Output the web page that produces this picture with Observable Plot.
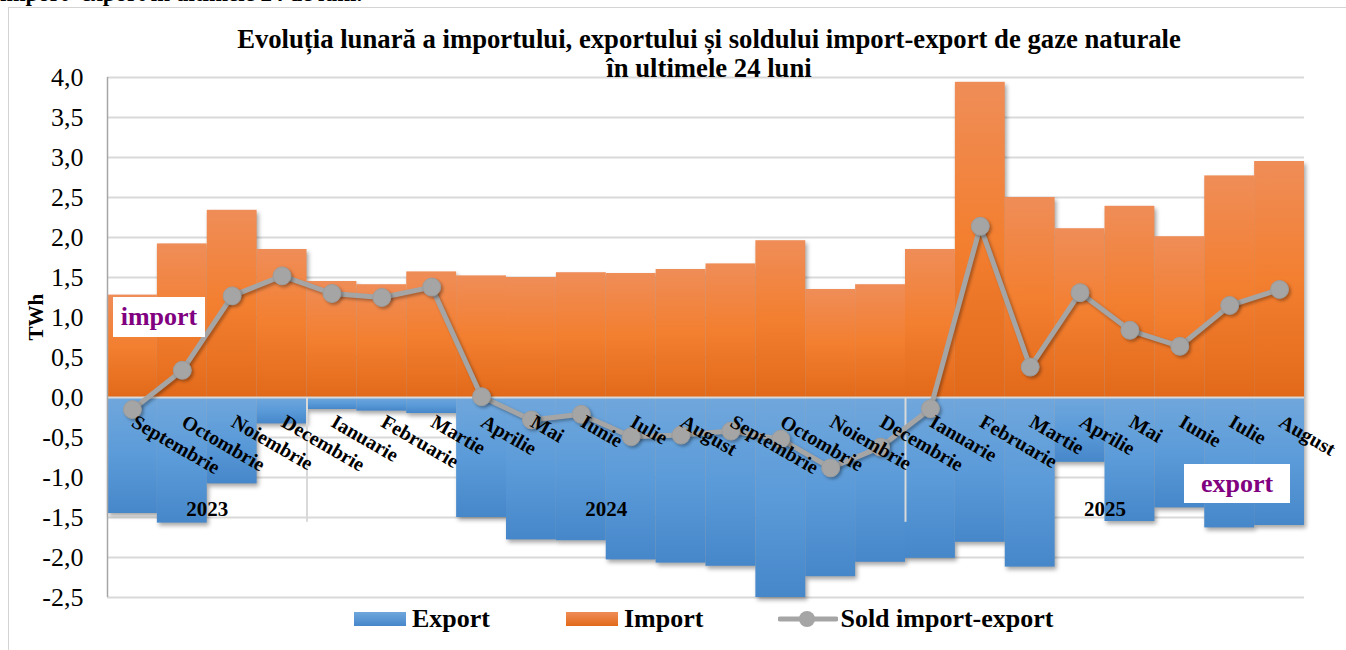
<!DOCTYPE html>
<html>
<head>
<meta charset="utf-8">
<script src="https://cdn.jsdelivr.net/npm/d3@7"></script>
<script src="https://cdn.jsdelivr.net/npm/@observablehq/plot@0.6"></script>
<style>
  html, body { margin: 0; padding: 0; background: #fff; overflow: hidden; }
  #wrap { position: relative; width: 1346px; height: 650px; font-family: "Liberation Serif", "Times New Roman", serif; }
  #frame { position: absolute; left: 8px; top: 7px; right: 0; bottom: -2px; border-top: 1.5px solid #D4D4D4; border-left: 1.5px solid #D4D4D4; }
  #doctext { position: absolute; left: 0; top: -17px; font-size: 23px; font-weight: bold; line-height: 22px; white-space: nowrap; color: #000; }
  #title { position: absolute; left: 209px; width: 1000px; top: 25px; text-align: center; font-size: 26.7px; font-weight: bold; line-height: 28.5px; color: #000; }
  #chart { position: absolute; left: 0; top: 0; }
  #chart svg { overflow: visible; }
  g[aria-label="rect"] { filter: drop-shadow(2px 3px 2px rgba(0,0,0,0.35)); }
  g[aria-label="line"], g[aria-label="dot"] { filter: drop-shadow(2px 2px 1.5px rgba(0,0,0,0.3)); }
  .anno { position: absolute; background: #fff; color: #800080; font-size: 26px; font-weight: bold; text-align: center; white-space: nowrap; }
  #legend { position: absolute; left: 354px; top: 606px; display: flex; align-items: center; font-size: 26px; font-weight: bold; line-height: 26px; color: #000; }
  .item { display: flex; align-items: center; }
  .sw { width: 52px; height: 14px; margin-right: 6px; }
</style>
</head>
<body>
<div id="wrap">
  <div id="frame"></div>
  <div id="doctext">import- export în ultimele 24 de luni.</div>
  <div id="chart"></div>
  <div id="title">Evoluția lunară a importului, exportului și soldului import-export de gaze naturale<br>în ultimele 24 luni</div>
  <div class="anno" style="left:113px; top:297px; width:92px; height:40px; line-height:40px;">import</div>
  <div class="anno" style="left:1184px; top:464px; width:106px; height:39px; line-height:39px;">export</div>
  <div id="legend">
    <div class="item" style="margin-right:76px;"><div class="sw" style="background:linear-gradient(#70A7DC,#4687CA);"></div>Export</div>
    <div class="item" style="margin-right:75px;"><div class="sw" style="background:linear-gradient(#EF8D58,#E2691A);"></div>Import</div>
    <div class="item">
      <svg width="60" height="20" style="margin-right:2px;"><line x1="2" y1="10" x2="58" y2="10" stroke="#A5A5A5" stroke-width="5" stroke-linecap="round"/><circle cx="29" cy="10" r="8" fill="#A5A5A5"/></svg>Sold import-export
    </div>
  </div>
</div>
<script>
// ---- Data ----
const months = ["Septembrie","Octombrie","Noiembrie","Decembrie","Ianuarie","Februarie","Martie","Aprilie","Mai","Iunie","Iulie","August",
                "Septembrie","Octombrie","Noiembrie","Decembrie","Ianuarie","Februarie","Martie","Aprilie","Mai","Iunie","Iulie","August"];
const importValues = [1.28,1.92,2.34,1.85,1.45,1.41,1.57,1.52,1.50,1.56,1.55,1.60,1.67,1.96,1.35,1.41,1.85,3.94,2.50,2.11,2.39,2.01,2.77,2.95];
const exportValues = [-1.45,-1.57,-1.08,-0.33,-0.15,-0.17,-0.20,-1.50,-1.78,-1.79,-2.03,-2.07,-2.11,-2.50,-2.24,-2.06,-2.01,-1.81,-2.12,-0.81,-1.55,-1.38,-1.63,-1.60];
const soldValues = [-0.15,0.34,1.27,1.52,1.30,1.25,1.38,0.01,-0.28,-0.21,-0.49,-0.47,-0.42,-0.52,-0.88,-0.62,-0.14,2.14,0.38,1.31,0.84,0.64,1.15,1.35];
const yearLabels = ["2023","2024","2025"];
const yearMonthCounts = [4,12,8];
const yTicks = [-2.5,-2.0,-1.5,-1.0,-0.5,0.0,0.5,1.0,1.5,2.0,2.5,3.0,3.5,4.0];

// ---- Derived tables ----
const data = months.map((m, i) => ({i, month: m, imp: importValues[i], exp: exportValues[i], sold: soldValues[i]}));
let start = 0;
const years = yearLabels.map((label, k) => {
  const s = start; start += yearMonthCounts[k];
  return {label, center: (s + start - 1) / 2, end: start - 0.5};
});
const dividers = years.slice(0, -1).map(d => d.end);
const fmt = v => d3.format(".1f")(v).replace(".", ",").replace("−", "-");

const defs = () => {
  const g = d3.create("svg:defs");
  const mk = (id, stops) => {
    const lg = g.append("linearGradient").attr("id", id).attr("x1", 0).attr("y1", 0).attr("x2", 0).attr("y2", 1);
    stops.forEach(([o, c]) => lg.append("stop").attr("offset", o).attr("stop-color", c));
  };
  mk("gOrange", [[0, "#EF8D58"], [0.5, "#F37F30"], [1, "#E2691A"]]);
  mk("gBlue", [[0, "#70A7DC"], [0.5, "#5B9BD9"], [1, "#4687CA"]]);
  return g.node();
};

const chart = Plot.plot({
  width: 1346,
  height: 650,
  marginLeft: 107,
  marginRight: 42,
  marginTop: 77,
  marginBottom: 53,
  x: {type: "linear", domain: [-0.5, months.length - 0.5], axis: null},
  y: {domain: [-2.5, 4], axis: null},
  style: {fontFamily: '"Liberation Serif", "Times New Roman", serif', background: "transparent", color: "#000"},
  marks: [
    defs,
    Plot.ruleY(yTicks, {stroke: "#D9D9D9", strokeWidth: 2}),
    Plot.rect(data, {x1: d => d.i - 0.5, x2: d => d.i + 0.5, y1: 0, y2: "imp", fill: "url(#gOrange)"}),
    Plot.rect(data, {x1: d => d.i - 0.5, x2: d => d.i + 0.5, y1: 0, y2: "exp", fill: "url(#gBlue)"}),
    Plot.ruleY([0], {stroke: "#D9D9D9", strokeWidth: 2}),
    Plot.ruleX([-0.5], {stroke: "#A6A6A6", strokeWidth: 1.5}),
    Plot.ruleX(dividers, {y1: 0, y2: -1.56, stroke: "#D9D9D9", strokeWidth: 2}),
    Plot.text(years, {x: "center", y: -1.4, text: "label", fontSize: 21, fontWeight: "bold", fill: "#000"}),
    Plot.line(data, {x: "i", y: "sold", stroke: "#A5A5A5", strokeWidth: 5}),
    Plot.dot(data, {x: "i", y: "sold", r: 9, fill: "#A5A5A5", stroke: "#9C9C9C", strokeWidth: 1}),
    Plot.text(data, {x: "i", y: 0, text: "month", rotate: 30, textAnchor: "start", lineAnchor: "top", dx: 5, dy: 16, fontSize: 20, fontWeight: "bold", fill: "#000"}),
    Plot.text(yTicks, {y: d => d, frameAnchor: "left", text: fmt, textAnchor: "end", dx: -24, fontSize: 26, fill: "#000"}),
    Plot.text(["TWh"], {frameAnchor: "left", text: d => d, rotate: -90, dx: -71, dy: 3, fontSize: 21, fontWeight: "bold", fill: "#000"})
  ]
});
document.getElementById("chart").appendChild(chart);
</script>
</body>
</html>
